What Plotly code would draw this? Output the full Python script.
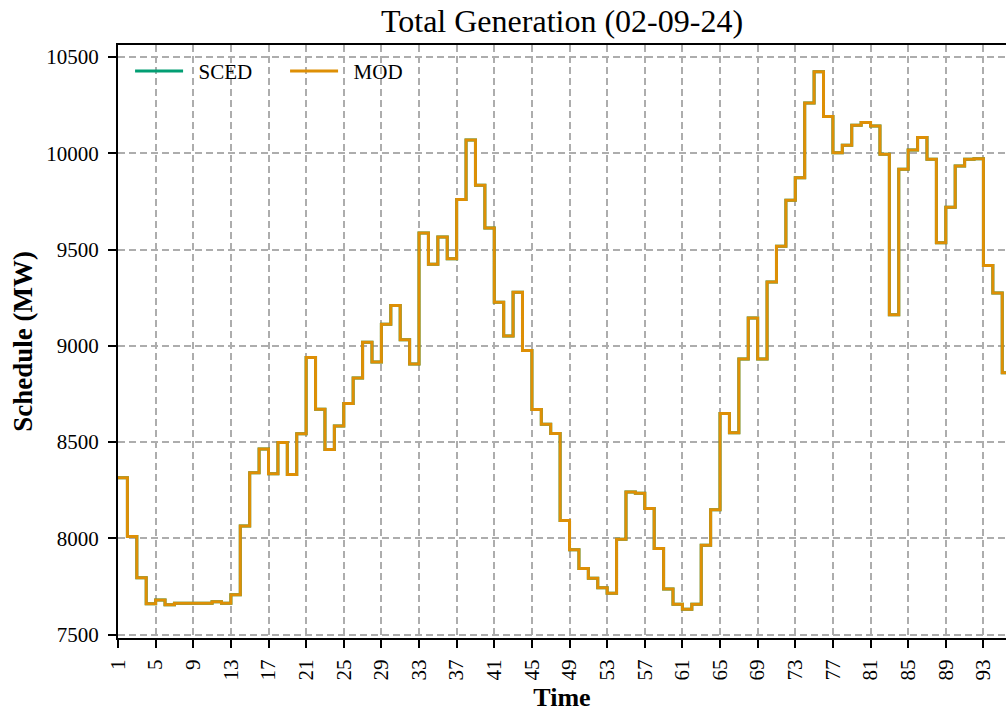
import plotly.graph_objects as go

time = list(range(1, 97))
mod = [8315, 8010, 7795, 7660, 7680, 7655, 7662, 7662, 7662, 7662,
       7670, 7662, 7707, 8064, 8340, 8464, 8336, 8498, 8331, 8543,
       8940, 8670, 8462, 8583, 8700, 8833, 9019, 8916, 9112, 9209,
       9031, 8905, 9586, 9424, 9565, 9453, 9760, 10070, 9834, 9612,
       9227, 9051, 9278, 8976, 8669, 8593, 8545, 8093, 7940, 7843,
       7793, 7743, 7714, 7995, 8240, 8234, 8155, 7947, 7736, 7658,
       7631, 7658, 7964, 8148, 8648, 8549, 8931, 9144, 8932, 9332,
       9517, 9757, 9873, 10262, 10424, 10191, 10003, 10042, 10146, 10160,
       10142, 9995, 9161, 9917, 10017, 10082, 9969, 9535, 9720, 9934,
       9969, 9972, 9417, 9274, 8860, 8860]
sced = list(mod)

xtick_vals = list(range(1, 97, 4))
ytick_vals = [7500, 8000, 8500, 9000, 9500, 10000, 10500]

SERIF = "Liberation Serif, Times New Roman, serif"

fig = go.Figure()
fig.add_trace(go.Scatter(x=time, y=sced, mode="lines", name="\u2002SCED",
                         line=dict(color="#029E73", width=3, shape="hv")))
fig.add_trace(go.Scatter(x=time, y=mod, mode="lines", name="\u2002MOD",
                         line=dict(color="#DE8F05", width=3, shape="hv")))

fig.update_layout(
    width=1006, height=713,
    margin=dict(l=118, r=0, t=45, b=75),
    paper_bgcolor="white", plot_bgcolor="white",
    font=dict(family=SERIF, size=21, color="black"),
    title=dict(text="Total Generation (02-09-24)", x=0.5, xanchor="center",
               xref="paper", yref="container", y=1 - 21 / 713, yanchor="middle",
               font=dict(family=SERIF, size=32, color="black")),
    showlegend=True,
    legend=dict(orientation="h", x=0.0136, y=0.99, xanchor="left", yanchor="top",
                bgcolor="rgba(0,0,0,0)", font=dict(family=SERIF, size=21),
                itemwidth=48, entrywidth=92, traceorder="normal"),
)

fig.update_xaxes(
    range=[1, 95.4], tickmode="array", tickvals=xtick_vals,
    ticktext=[str(v) for v in xtick_vals], tickangle=-90,
    ticks="outside", ticklen=8, tickwidth=1.5, tickcolor="black",
    ticklabelstandoff=3,
    showline=True, linecolor="black", linewidth=2, mirror=True,
    showgrid=True, gridcolor="#adadad", griddash="7px,4px", gridwidth=1.5,
    zeroline=False,
    title=dict(text="<b>Time</b>", standoff=8,
               font=dict(family=SERIF, size=26, color="black")),
)
fig.update_yaxes(
    range=[7482, 10563], tickmode="array", tickvals=ytick_vals,
    ticktext=[str(v) for v in ytick_vals],
    ticks="outside", ticklen=8, tickwidth=1.5, tickcolor="black",
    ticklabelstandoff=5,
    showline=True, linecolor="black", linewidth=2, mirror=False,
    showgrid=True, gridcolor="#adadad", griddash="7px,4px", gridwidth=1.5,
    zeroline=False,
    title=dict(text="<b>Schedule (MW)</b>", standoff=6,
               font=dict(family=SERIF, size=27, color="black")),
)

fig.write_html("out.html",
               config={"displayModeBar": False},
               post_script="document.body.style.margin='0';"
                           "document.body.style.overflow='hidden';")
